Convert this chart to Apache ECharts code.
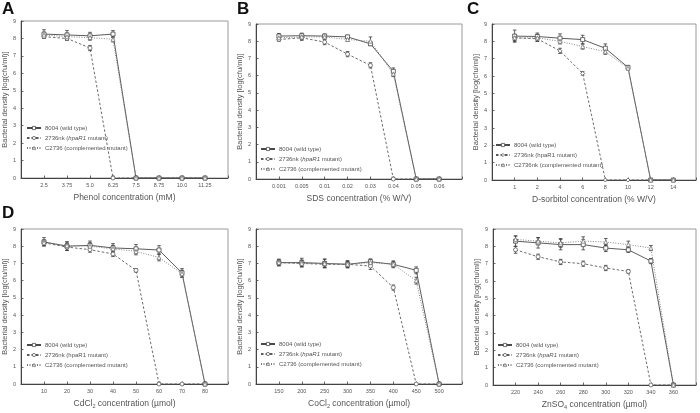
<!DOCTYPE html>
<html><head><meta charset="utf-8">
<script src="https://cdn.jsdelivr.net/npm/echarts@6/dist/echarts.min.js"></script>
<style>html,body{margin:0;padding:0;background:#fff}#c{width:700px;height:413px}</style>
</head><body><div id="c"></div>
<script>
// ---------- data ----------
const yTicks = [0,1,2,3,4,5,6,7,8,9];

const xTicksA = ['2.5','3.75','5.0','6.25','7.5','8.75','10.0','11.25'];
const wildA = [8.25, 8.2, 8.15, 8.25, 0, 0, 0, 0];
const mutA  = [8.1, 8.0, 7.45, 0, 0, 0, 0, 0];
const compA = [8.2, 8.1, 8.05, 7.95, 0, 0, 0, 0];
const errWA = [0.25,0.25,0.2,0.2,0,0,0,0];
const errMA = [0.1,0.1,0.15,0.1,0,0,0,0];
const errCA = [0.15,0.2,0.15,0.15,0,0,0,0];

const xTicksB = ['0.001','0.005','0.01','0.02','0.03','0.04','0.05','0.06'];
const wildB = [8.3, 8.32, 8.3, 8.25, 7.85, 6.25, 0, 0];
const mutB  = [8.1, 8.2, 7.95, 7.25, 6.6, 0, 0, 0];
const compB = [8.2, 8.25, 8.25, 8.1, 8.0, 6.1, 0, 0];
const errWB = [0.15,0.15,0.12,0.1,0.1,0.2,0,0];
const errMB = [0.1,0.15,0.15,0.15,0.15,0.1,0,0];
const errCB = [0.15,0.15,0.1,0.1,0.25,0.15,0,0];

const xTicksC = ['1','2','4','6','8','10','12','14'];
const wildC = [8.3, 8.28, 8.18, 8.1, 7.6, 6.5, 0, 0];
const mutC  = [8.2, 8.15, 7.45, 6.15, 0, 0, 0, 0];
const compC = [8.2, 8.2, 8.0, 7.7, 7.4, 6.45, 0, 0];
const errWC = [0.35,0.2,0.25,0.25,0.25,0.1,0,0];
const errMC = [0.15,0.15,0.15,0.1,0,0,0,0];
const errCC = [0.2,0.2,0.15,0.15,0.15,0.1,0,0];

const xTicksD = ['10','20','30','40','50','60','70','80'];
const wildD = [8.25, 8.0, 8.05, 7.9, 7.85, 7.78, 6.45, 0];
const mutD  = [8.2, 7.95, 7.8, 7.55, 6.6, 0, 0, 0];
const compD = [8.2, 8.05, 8.0, 7.85, 7.7, 7.35, 6.4, 0];
const errWD = [0.25,0.25,0.25,0.25,0.25,0.25,0.25,0.1];
const errMD = [0.15,0.2,0.15,0.15,0.1,0.1,0,0];
const errCD = [0.15,0.2,0.2,0.2,0.2,0.2,0.2,0];

const xTicksE = ['150','200','250','300','350','400','450','500'];
const wildE = [7.05, 7.05, 7.0, 6.95, 7.1, 6.95, 6.6, 0];
const mutE  = [7.05, 7.0, 6.95, 6.95, 6.85, 5.6, 0, 0];
const compE = [7.05, 7.0, 7.0, 6.95, 7.05, 6.95, 6.0, 0];
const errWE = [0.2,0.25,0.25,0.2,0.15,0.2,0.2,0.05];
const errME = [0.15,0.15,0.15,0.15,0.2,0.15,0,0];
const errCE = [0.15,0.2,0.25,0.2,0.2,0.15,0.2,0];

const xTicksF = ['220','240','260','280','300','320','340','360'];
const wildF = [8.3, 8.2, 8.1, 8.1, 7.9, 7.8, 7.15, 0];
const mutF  = [7.8, 7.4, 7.1, 7.0, 6.75, 6.55, 0, 0];
const compF = [8.4, 8.3, 8.2, 8.3, 8.25, 8.1, 7.9, 0];
const errWF = [0.3,0.3,0.3,0.3,0.2,0.15,0.15,0];
const errMF = [0.2,0.15,0.15,0.15,0.15,0.1,0,0];
const errCF = [0.2,0.2,0.25,0.25,0.2,0.2,0.15,0];

const yName = 'Bacterial density [log(cfu/ml)]';
const xNames = ['Phenol concentration (mM)', 'SDS concentration (% W/V)', 'D-sorbitol concentration (% W/V)',
  'CdCl{s|2} concentration (µmol)', 'CoCl{s|2} concentration (µmol)', 'ZnSO{s|4} concentration (µmol)'];
const letters = ['A','B','C','D','',''];
const legendWild = '8004 (wild type)';
const legendMut = ['2736nk ({i|hpaR1} mutant)','2736nk ({i|hpaR1} mutant)','2736nk (hpaR1 mutant)','2736nk (hpaR1 mutant)','2736nk ({i|hpaR1} mutant)','2736nk ({i|hpaR1} mutant)'];
const legendComp = ['C2736 (complemented mutant)','C2736 (complemented mutant)','C2736nk (complemented mutant)','C2736 (complemented mutant)','C2736 (complemented mutant)','C2736 (complemented mutant)'];

// ---------- layout ----------
const FONT = 'Liberation Sans, Arial, sans-serif';
const layout = [
  {left:21, top:21, width:207, height:157, legL:26, legT:125, lx:2, ly:1},
  {left:256, top:24, width:206, height:155, legL:260, legT:146, lx:237, ly:1},
  {left:492, top:24, width:204, height:156, legL:495, legT:142, lx:467, ly:1},
  {left:21, top:229, width:207, height:155, legL:26, legT:342, lx:2, ly:205},
  {left:256, top:229, width:206, height:155, legL:260, legT:341, lx:0, ly:0},
  {left:493, top:229, width:203, height:156, legL:497, legT:342, lx:0, ly:0}
];

const panels = [
  {ticks:xTicksA, w:wildA, m:mutA, c:compA, ew:errWA, em:errMA, ec:errCA, mSym:'circle'},
  {ticks:xTicksB, w:wildB, m:mutB, c:compB, ew:errWB, em:errMB, ec:errCB, mSym:'circle'},
  {ticks:xTicksC, w:wildC, m:mutC, c:compC, ew:errWC, em:errMC, ec:errCC, mSym:'diamond'},
  {ticks:xTicksD, w:wildD, m:mutD, c:compD, ew:errWD, em:errMD, ec:errCD, mSym:'circle'},
  {ticks:xTicksE, w:wildE, m:mutE, c:compE, ew:errWE, em:errME, ec:errCE, mSym:'circle'},
  {ticks:xTicksF, w:wildF, m:mutF, c:compF, ew:errWF, em:errMF, ec:errCF, mSym:'circle'}
];

const grids = [], xAxes = [], yAxes = [], series = [], legends = [], graphics = [];

function errRender(params, api) {
  const x = api.value(0), lo = api.value(1), hi = api.value(2);
  const p1 = api.coord([x, hi]), p2 = api.coord([x, lo]);
  const w = 1.8;
  const style = {stroke:'#3a3a3a', lineWidth:0.8, fill:null};
  return {type:'group', children:[
    {type:'line', shape:{x1:p1[0], y1:p1[1], x2:p2[0], y2:p2[1]}, style:style},
    {type:'line', shape:{x1:p1[0]-w, y1:p1[1], x2:p1[0]+w, y2:p1[1]}, style:style},
    {type:'line', shape:{x1:p2[0]-w, y1:p2[1], x2:p2[0]+w, y2:p2[1]}, style:style}
  ]};
}

panels.forEach((p, i) => {
  const L = layout[i];
  grids.push({left:L.left, top:L.top, width:L.width, height:L.height, show:true, borderColor:'#9a9a9a', borderWidth:1, backgroundColor:'transparent'});
  const n = p.ticks.length;
  xAxes.push({
    type:'value', gridIndex:i, min:0, max:n+1, interval:1,
    name:xNames[i], nameLocation:'middle', nameGap:15,
    nameTextStyle:{fontFamily:FONT, fontSize:8.5, lineHeight:10, color:'#555',
      rich:{s:{fontSize:5.5, lineHeight:10, color:'#555', fontFamily:FONT, verticalAlign:'bottom'}}},
    axisLine:{show:true, lineStyle:{color:'#444', width:1}},
    axisTick:{show:true, inside:true, length:2.5, lineStyle:{color:'#444', width:0.8}},
    axisLabel:{fontFamily:FONT, fontSize:5.5, color:'#555', margin:4,
      formatter: v => (v >= 1 && v <= n) ? p.ticks[v-1] : ''},
    splitLine:{show:false}
  });
  yAxes.push({
    type:'value', gridIndex:i, min:yTicks[0], max:yTicks[yTicks.length-1], interval:1,
    name:yName, nameLocation:'middle', nameGap:9,
    nameTextStyle:{fontFamily:FONT, fontSize:7.5, color:'#555'},
    axisLine:{show:true, lineStyle:{color:'#444', width:1}},
    axisTick:{show:true, inside:true, length:2.5, lineStyle:{color:'#444', width:0.8}},
    axisLabel:{fontFamily:FONT, fontSize:5.5, color:'#555', margin:5},
    splitLine:{show:false}
  });
  const key = 'P' + i + ':';
  const defs = [
    {name:key+legendWild, vals:p.w, err:p.ew, sym:'rect', type:'solid', color:'#4a4a4a'},
    {name:key+legendMut[i], vals:p.m, err:p.em, sym:p.mSym, type:[2.5,2], color:'#5a5a5a'},
    {name:key+legendComp[i], vals:p.c, err:p.ec, sym:'triangle', type:[1,1.5], color:'#7a7a7a'}
  ];
  defs.forEach(d => {
    series.push({
      type:'custom', xAxisIndex:i, yAxisIndex:i, renderItem:errRender, z:1, silent:true,
      encode:{x:0, y:[1,2]},
      data: d.vals.map((v, k) => [k+1, Math.max(0, v - d.err[k]), v + d.err[k]]).filter((r, k) => d.err[k] > 0)
    });
    series.push({
      type:'line', name:d.name, xAxisIndex:i, yAxisIndex:i, z:3,
      data: d.vals.map((v, k) => [k+1, v]),
      symbol:d.sym, symbolSize:4, showSymbol:true,
      lineStyle:{color:d.color, width:0.9, type:d.type},
      itemStyle:{color:'#ffffff', borderColor:d.color, borderWidth:0.8}
    });
  });
  legends.push({
    data: defs.map(d => ({name:d.name, itemStyle:{color:'#ffffff', borderColor:d.color, borderWidth:0.8}})),
    left:L.legL, top:L.legT, orient:'vertical',
    itemWidth:14, itemHeight:4, itemGap:4, padding:0,
    formatter: name => name.slice(key.length),
    textStyle:{fontFamily:FONT, fontSize:6, color:'#555', padding:[0,0,0,-1],
      rich:{i:{fontStyle:'italic', fontFamily:FONT, fontSize:6, color:'#555'}}},
    selectedMode:false
  });
  if (letters[i]) {
    graphics.push({type:'text', left:L.lx, top:L.ly, style:{text:letters[i], font:'bold 17px ' + FONT, fill:'#111'}});
  }
});

const chart = echarts.init(document.getElementById('c'), null, {renderer:'canvas'});
chart.setOption({
  animation:false,
  backgroundColor:'#fff',
  grid:grids, xAxis:xAxes, yAxis:yAxes, series:series, legend:legends, graphic:graphics
});
</script></body></html>
